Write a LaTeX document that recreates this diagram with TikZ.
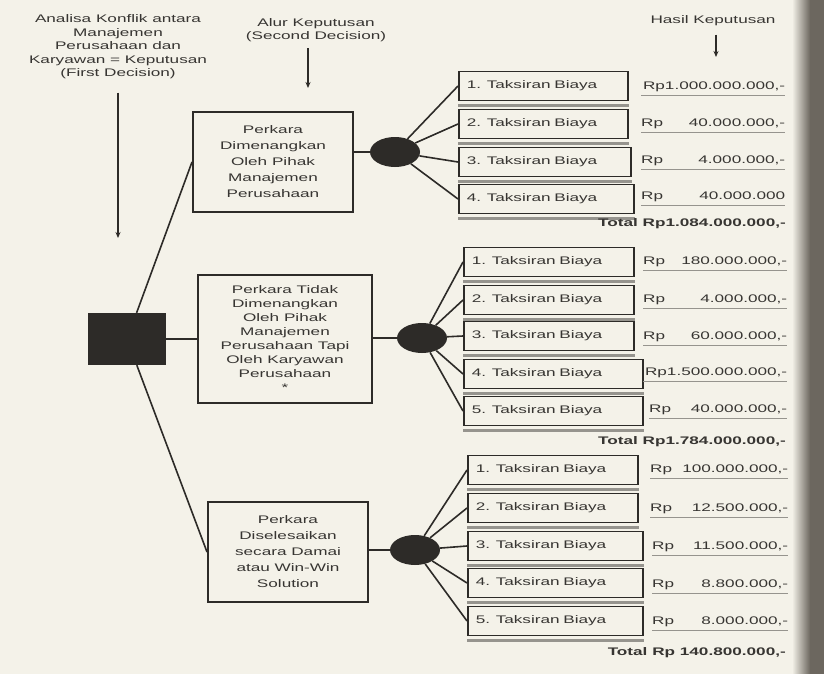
\documentclass[tikz,border=0pt]{standalone}
\usepackage{fontspec}
\setmainfont{Liberation Sans}[FakeStretch=1.56]
\usetikzlibrary{shapes.geometric,arrows.meta}
\definecolor{paper}{RGB}{244,242,233}
\definecolor{ink}{RGB}{45,43,40}
\definecolor{inktext}{RGB}{55,53,50}
\definecolor{bandgray}{RGB}{150,148,142}
\definecolor{spine}{RGB}{108,103,95}
\begin{document}
\begin{tikzpicture}[x=1pt,y=-1pt,
		every node/.style={text=inktext, font=\fontsize{11}{13.5}\selectfont},
		cline/.style={draw=ink, line width=1.6pt},
		pointer/.style={draw=ink, line width=1.4pt, -{Stealth[length=6pt,width=5pt]}},
		band line/.style={draw=bandgray, line width=3pt},
		caseBox/.style={draw=ink, line width=2pt, align=center, minimum width=160pt, minimum height=100pt, font=\fontsize{11}{16}\selectfont},
		chance/.style={ellipse, fill=ink, minimum width=50pt, minimum height=30pt, inner sep=0pt},
		costBox/.style={draw=ink, line width=1.9pt, anchor=west, inner xsep=8pt, text width=#1, minimum height=29pt,
			append after command={([yshift=-4pt]\tikzlastnode.south west) edge[band line] ([yshift=-4pt]\tikzlastnode.south east)}},
		costBox/.default=154pt,
		amount/.style={anchor=west, inner xsep=0pt, inner ysep=1pt, text width=#1,
			append after command={([yshift=-2pt]\tikzlastnode.south west) edge[draw=bandgray, line width=0.9pt] ([yshift=-2pt]\tikzlastnode.south east)}},
		amount/.default=144pt,
		total/.style={anchor=east, inner sep=0pt, font=\fontsize{11}{13.5}\selectfont\bfseries}
	]
		\useasboundingbox (0,0) rectangle (824,674);
		\fill[paper] (0,0) rectangle (824,674);
		\shade[left color=paper, right color=spine] (792,0) rectangle (810,674);
		\fill[spine] (810,0) rectangle (824,674);

		% headings
		\node[align=center] (lbl1) at (118,47) {Analisa Konflik antara\\Manajemen\\Perusahaan dan\\Karyawan = Keputusan\\(First Decision)};
		\node[align=center] (lbl2) at (316,30) {Alur Keputusan\\(Second Decision)};
		\node (lbl3) at (713,21) {Hasil Keputusan};
		\coordinate (a1e) at (118,238);
		\coordinate (a2e) at (308,88);
		\coordinate (a3e) at (716,57);

		\draw[pointer, shorten <=10pt] (lbl1) -- (a1e);
		\draw[pointer, shorten <=3pt] (lbl2.south -| a2e) -- (a2e);
		\draw[pointer, shorten <=5pt] (lbl3.south -| a3e) -- (a3e);

		% decision
		\node[fill=ink, minimum width=78pt, minimum height=52pt] (root) at (127,339) {};

		\node[caseBox] (b1) at (273,162) {Perkara\\Dimenangkan\\Oleh Pihak\\Manajemen\\Perusahaan};
		\node[caseBox, minimum width=174pt, minimum height=128pt, font=\fontsize{11}{14}\selectfont] (b2) at (285,339) {Perkara Tidak\\Dimenangkan\\Oleh Pihak\\Manajemen\\Perusahaan Tapi\\Oleh Karyawan\\Perusahaan\\*};
		\node[caseBox] (b3) at (288,552) {Perkara\\Diselesaikan\\secara Damai\\atau Win-Win\\Solution};

		\draw[cline] (root) -- (b1.west);
		\draw[cline] (root) -- (b2.west);
		\draw[cline] (root) -- (b3.west);

		\node[chance] (e1) at (395,152) {};
		\node[chance] (e2) at (422,338) {};
		\node[chance] (e3) at (415,550) {};

		\draw[cline] (b1.east |- e1) -- (e1);
		\draw[cline] (b2.east |- e2) -- (e2);
		\draw[cline] (b3.east |- e3) -- (e3);

		% first case
		\node[costBox=153pt] (c11) at (458,86)  {1. Taksiran Biaya};
		\node[costBox=153pt] (c12) at (458,124) {2. Taksiran Biaya};
		\node[costBox=156pt] (c13) at (458,162) {3. Taksiran Biaya};
		\node[costBox=159pt] (c14) at (458,199) {4. Taksiran Biaya};

		\draw[cline] (e1) -- (c11.west);
		\draw[cline] (e1) -- (c12.west);
		\draw[cline] (e1) -- (c13.west);
		\draw[cline] (e1) -- (c14.west);

		\node[amount] (v11) at (641,87)  {\hfill\mbox{Rp1.000.000.000,-}};
		\node[amount] (v12) at (641,124) {Rp\hfill 40.000.000,-};
		\node[amount] (v13) at (641,161) {Rp\hfill 4.000.000,-};
		\node[amount] (v14) at (641,197) {Rp\hfill 40.000.000};
		\node[total] (t1) at (786,224) {Total Rp1.084.000.000,-};

		% second case
		\node[costBox] (c21) at (463,262) {1. Taksiran Biaya};
		\node[costBox] (c22) at (463,300) {2. Taksiran Biaya};
		\node[costBox] (c23) at (463,336) {3. Taksiran Biaya};
		\node[costBox=163pt] (c24) at (463,374) {4. Taksiran Biaya};
		\node[costBox=163pt] (c25) at (463,411) {5. Taksiran Biaya};

		\draw[cline] (e2) -- (c21.west);
		\draw[cline] (e2) -- (c22.west);
		\draw[cline] (e2) -- (c23.west);
		\draw[cline] (e2) -- (c24.west);
		\draw[cline] (e2) -- (c25.west);

		\node[amount] (v21) at (643,262) {Rp\hfill 180.000.000,-};
		\node[amount] (v22) at (643,300) {Rp\hfill 4.000.000,-};
		\node[amount] (v23) at (643,337) {Rp\hfill 60.000.000,-};
		\node[amount=144pt] (v24) at (643,373) {\hfill\mbox{Rp1.500.000.000,-}};
		\node[amount=138pt] (v25) at (649,410) {Rp\hfill 40.000.000,-};
		\node[total] (t2) at (786,442) {Total Rp1.784.000.000,-};

		% third case
		\node[costBox] (c31) at (467,470) {1. Taksiran Biaya};
		\node[costBox] (c32) at (467,508) {2. Taksiran Biaya};
		\node[costBox=159pt] (c33) at (467,546) {3. Taksiran Biaya};
		\node[costBox=159pt] (c34) at (467,583) {4. Taksiran Biaya};
		\node[costBox=159pt] (c35) at (467,621) {5. Taksiran Biaya};

		\draw[cline] (e3) -- (c31.west);
		\draw[cline] (e3) -- (c32.west);
		\draw[cline] (e3) -- (c33.west);
		\draw[cline] (e3) -- (c34.west);
		\draw[cline] (e3) -- (c35.west);

		\node[amount=138pt] (v31) at (650,470) {Rp\hfill 100.000.000,-};
		\node[amount=138pt] (v32) at (650,509) {Rp\hfill 12.500.000,-};
		\node[amount=136pt] (v33) at (652,547) {Rp\hfill 11.500.000,-};
		\node[amount=136pt] (v34) at (652,585) {Rp\hfill 8.800.000,-};
		\node[amount=136pt] (v35) at (652,622) {Rp\hfill 8.000.000,-};
		\node[total] (t3) at (786,653) {Total Rp 140.800.000,-};
	\end{tikzpicture}
\end{document}
